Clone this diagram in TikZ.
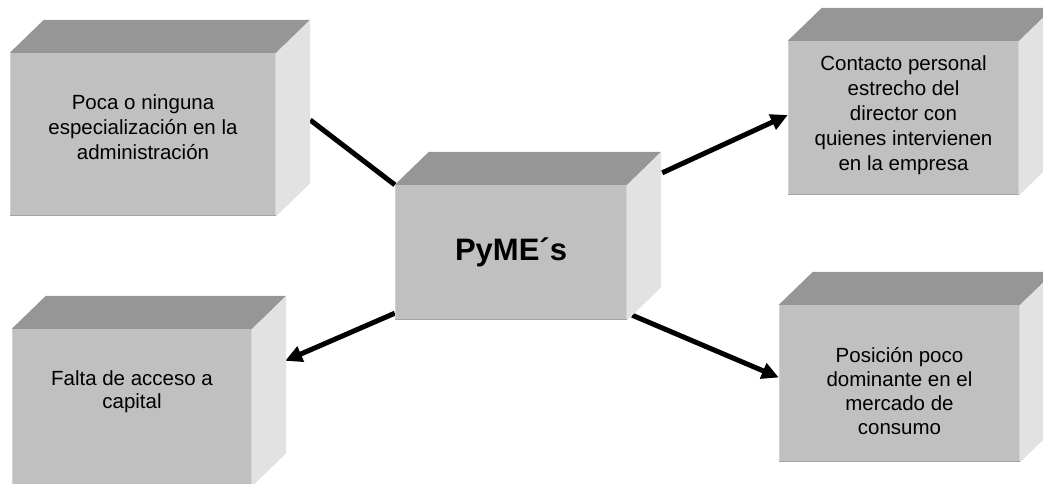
\documentclass[tikz,border=0pt]{standalone}
\usepackage{fontspec}
\setmainfont{Liberation Sans}
\usetikzlibrary{calc,arrows.meta}

\definecolor{frontc}{HTML}{C0C0C0}
\definecolor{topc}{HTML}{969696}
\definecolor{sidec}{HTML}{E2E2E2}
\definecolor{edgelight}{HTML}{D2D2D2}
\definecolor{edgedark}{HTML}{A4A4A4}

\tikzset{
  face/.style={fill=frontc, draw=none, inner sep=0pt},
  lbl/.style={align=center, font=\fontsize{20.5}{25}\selectfont, inner sep=0pt},
  link/.style={line width=5pt},
  arrowlink/.style={line width=5pt, -{Triangle[length=17pt,width=16pt]}},
}

% front face as a node, then top and side faces of the block
\newcommand{\block}[4]{%
  \node[face, minimum width=#3pt, minimum height=#4pt] (#1) at (#2) {};
  \fill[topc] (#1.north west) -- ++(34,-33) -- ($(#1.north east)+(34,-33)$) -- (#1.north east) -- cycle;
  \fill[sidec] (#1.north east) -- ++(34,-33) -- ($(#1.south east)+(34,-33)$) -- (#1.south east) -- cycle;
  \draw[edgelight, line width=1.5pt] ([xshift=0.75pt]#1.south west) -- ([xshift=0.75pt]#1.north west);
  \draw[edgelight, line width=1.5pt] ([xshift=-0.75pt]#1.south east) -- ([xshift=-0.75pt]#1.north east);
  \draw[edgedark, line width=1.5pt] ([yshift=0.75pt]#1.south west) -- ([yshift=0.75pt]#1.south east);
}

\begin{document}
\begin{tikzpicture}[x=1pt, y=-1pt]
\useasboundingbox (0,0) rectangle (1043,483);
\clip (0,0) rectangle (1043,483);

% front faces (centre, width, height)
\coordinate (pc) at (511,252.5);
\coordinate (p1) at (143,134.5);
\coordinate (p2) at (903.5,118);
\coordinate (p3) at (132,407.5);
\coordinate (p4) at (899.5,383.5);

% nodes placed first so the connectors can use their anchors
\path node[face, minimum width=232pt, minimum height=135pt, fill=none] (c) at (pc) {}
      node[face, minimum width=266pt, minimum height=163pt, fill=none] (b1) at (p1) {}
      node[face, minimum width=231pt, minimum height=154pt, fill=none] (b2) at (p2) {}
      node[face, minimum width=240pt, minimum height=157pt, fill=none] (b3) at (p3) {}
      node[face, minimum width=241pt, minimum height=157pt, fill=none] (b4) at (p4) {};

% connectors
\draw[link] ($(b1.east)+(34,-14.5)$) -- (c.north west);
\draw[arrowlink] ($(c.north east)+(35,-12)$) -- ($(b2.west)+(0,-3)$);
\draw[arrowlink] ($(c.south west)+(0,-7)$) -- ($(b3.north east)+(33,32)$);
\draw[arrowlink] ($(c.south east)+(5,-5)$) -- ($(b4.west)+(0,-6)$);

% blocks
\block{b1f}{p1}{266}{163}
\block{b2f}{p2}{231}{154}
\block{b3f}{p3}{240}{157}
\block{b4f}{p4}{241}{157}
\block{cf}{pc}{232}{135}

% texts
\node[lbl] (t1) at ([yshift=7pt]b1.center) {Poca o ninguna\\especialización en la\\administración};
\node[lbl] (t2) at ([yshift=3pt]b2.center) {Contacto personal\\estrecho del\\director con\\quienes intervienen\\en la empresa};
\node[lbl, font=\fontsize{20.5}{22.5}\selectfont] (t3) at ([yshift=16pt]b3.center) {Falta de acceso a\\capital};
\node[lbl, font=\fontsize{20.5}{24}\selectfont] (t4) at ([yshift=-8pt]b4.center) {Posición poco\\dominante en el\\mercado de\\consumo};
\node[inner sep=0pt, font=\fontsize{31}{36}\bfseries\selectfont] (tc) at (c.center) {PyME´s};
\end{tikzpicture}
\end{document}
